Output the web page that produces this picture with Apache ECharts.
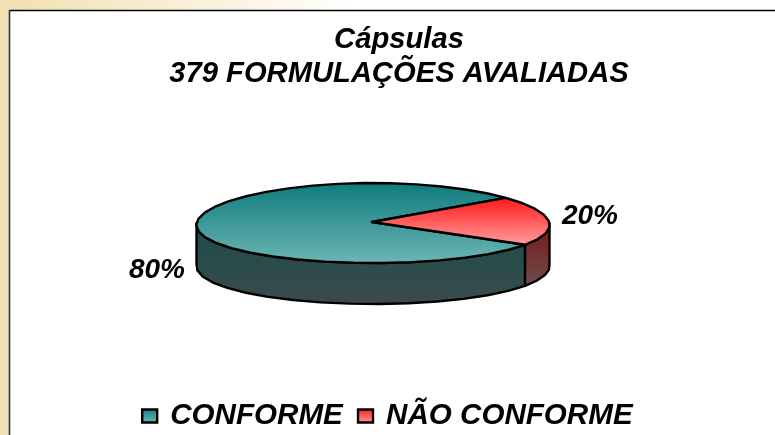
<!DOCTYPE html>
<html><head><meta charset="utf-8">
<style>html,body{margin:0;padding:0;background:#fff}#c{width:775px;height:435px}</style>
<script src="https://cdn.jsdelivr.net/npm/echarts@6/dist/echarts.min.js"></script>
</head><body><div id="c"></div>
<script>
const titleLines = ['Cápsulas', '379 FORMULAÇÕES AVALIADAS'];
const categories = ['CONFORME', 'NÃO CONFORME'];
const values = [80, 20];

const FONT = '"Liberation Sans", Arial, sans-serif';
const total = values.reduce((a, b) => a + b, 0);
const G = { cx: 373, cy: 223, rx: 176.5, ry: 40, depth: 41, persp: 0.05, start: 39, step: 9 };
const grad = (y1, y2, c1, c2) => new echarts.graphic.LinearGradient(0, y1, 0, y2, [
  { offset: 0, color: c1 }, { offset: 1, color: c2 }], true);
const looks = [
  { top: grad(183, 264, '#0e7c7c', '#6db6b4'), wall: grad(225, 304, '#1b4d4d', '#3c4a4a'), label: [157, 270],
    icon: new echarts.graphic.LinearGradient(0, 0, 0, 1, [{ offset: 0, color: '#1a8080' }, { offset: 1, color: '#6db6b4' }]) },
  { top: grad(196, 244, '#ff1414', '#ff9a9a'), wall: grad(225, 285, '#761818', '#704c4c'), label: [590, 216],
    icon: new echarts.graphic.LinearGradient(0, 0, 0, 1, [{ offset: 0, color: '#ff2020' }, { offset: 1, color: '#ff9a9a' }]) }
];
function rim(deg, dy) {
  const a = deg * Math.PI / 180, u = Math.cos(a), v = -Math.sin(a);
  return [G.cx + G.rx * u * (1 + G.persp * v), G.cy + G.ry * v + dy];
}
function arc(a0, a1, dy) {
  const n = Math.max(2, Math.round(Math.abs(a1 - a0) / G.step)), pts = [];
  for (let i = 0; i <= n; i++) pts.push(rim(a0 + (a1 - a0) * i / n, dy));
  return pts;
}
function renderSlice(idx) {
  return function (params, api) {
    // The red slice starts at G.start and the turn runs clockwise, teal takes the remainder.
    const order = idx === 1 ? 0 : values[1];
    const a0 = G.start - order / total * 360;
    const a1 = a0 - api.value(0) / total * 360;
    const top = arc(a0, a1, 0);
    const children = [];
    let wStart = Math.min(a0, 0), wEnd = Math.max(a1, -180);
    if (wStart > wEnd) {
      const up = arc(wStart, wEnd, 0), down = arc(wEnd, wStart, G.depth);
      children.push({ type: 'polygon', shape: { points: up.concat(down) },
        style: { fill: looks[idx].wall, stroke: '#000', lineWidth: 2.4, lineJoin: 'round' } });
    }
    children.push({ type: 'polygon', shape: { points: [[G.cx - 1, G.cy - 1]].concat(top) },
      style: { fill: looks[idx].top, stroke: '#000', lineWidth: 2.4, lineJoin: 'round' } });
    children.push({ type: 'text', x: looks[idx].label[0], y: looks[idx].label[1],
      style: { text: Math.round(api.value(0) / total * 100) + '%', fill: '#000', align: 'center', verticalAlign: 'middle',
        font: 'italic bold 28px ' + FONT } });
    return { type: 'group', children };
  };
}
const chart = echarts.init(document.getElementById('c'), null, { renderer: 'canvas' });
chart.setOption({
  animation: false,
  backgroundColor: '#fff',
  title: { text: titleLines.join('\n'), left: 394, top: 18, textAlign: 'center',
    textStyle: { fontFamily: FONT, fontStyle: 'italic', fontWeight: 'bold', fontSize: 29.2, lineHeight: 34, color: '#000', align: 'center' } },
  legend: { data: categories.map((n, i) => ({ name: n, icon: 'rect', itemStyle: { color: looks[i].icon, borderColor: '#000', borderWidth: 2.4 } })),
    left: 136, top: 396, itemWidth: 15, itemHeight: 13, itemGap: 14,
    textStyle: { fontFamily: FONT, fontStyle: 'italic', fontWeight: 'bold', fontSize: 29.6, color: '#000', padding: [0, 0, 0, 8] } },
  graphic: [
    { type: 'rect', z: -10, silent: true, shape: { x: 0, y: 0, width: 775, height: 10 },
      style: { fill: new echarts.graphic.LinearGradient(0, 0, 1, 0, [{ offset: 0, color: '#f0e0b0' }, { offset: 0.2, color: '#f8edd2' }, { offset: 0.46, color: '#ffffff' }, { offset: 1, color: '#ffffff' }]) } },
    { type: 'rect', z: -10, silent: true, shape: { x: 0, y: 0, width: 9, height: 435 }, style: { fill: '#f1e2b6' } },
    { type: 'line', z: -9, silent: true, shape: { x1: 9.5, y1: 10.5, x2: 775, y2: 10.5 }, style: { stroke: '#000', lineWidth: 1.6 } },
    { type: 'line', z: -9, silent: true, shape: { x1: 9.5, y1: 10, x2: 9.5, y2: 435 }, style: { stroke: '#333', lineWidth: 1.6 } }
  ],
  series: categories.map((n, i) => ({
    type: 'custom', name: n, coordinateSystem: 'none', data: [[values[i]]],
    z: i === 0 ? 2 : 3, clip: false, renderItem: renderSlice(i), encode: { value: 0 }
  }))
});
</script></body></html>
